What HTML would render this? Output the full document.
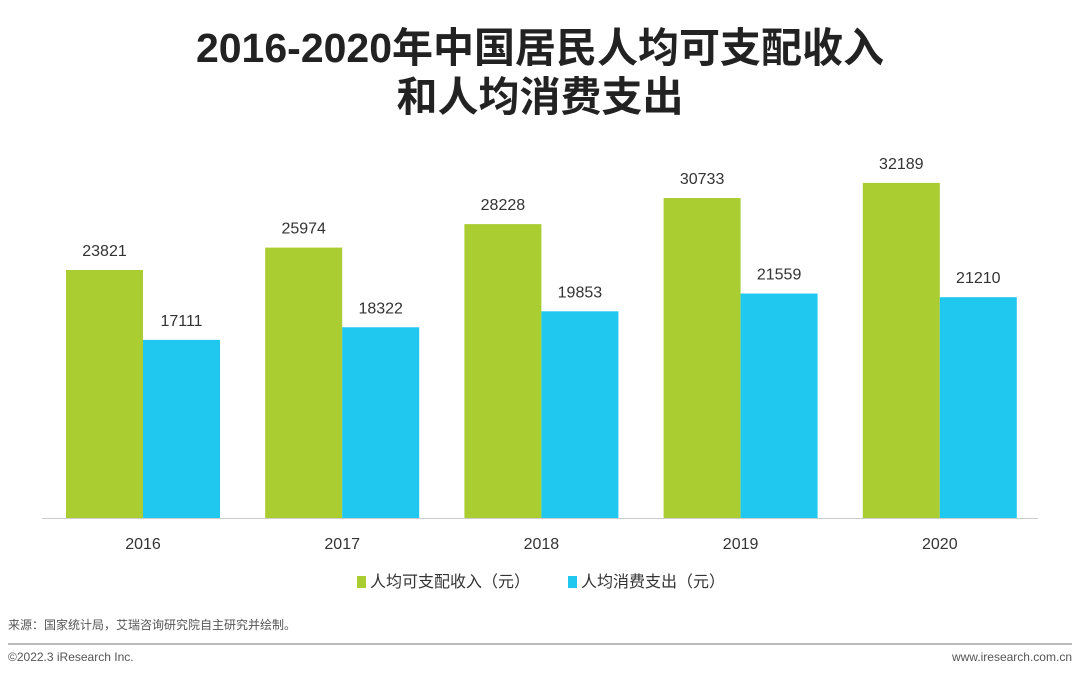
<!DOCTYPE html>
<html><head><meta charset="utf-8"><style>
body{margin:0;width:1080px;height:678px;background:#fff;overflow:hidden;font-family:"Liberation Sans","Noto Sans CJK SC",sans-serif;}
.t{position:absolute;left:0;width:1080px;text-align:center;font-weight:bold;font-size:41px;color:#222;}
</style></head><body>
<div class="t" style="top:14px">2016-2020年中国居民人均可支配收入</div>
<div class="t" style="top:63px">和人均消费支出</div>
<svg id="c" width="1080" height="678" style="position:absolute;left:0;top:0"></svg>
<script>
const years=["2016","2017","2018","2019","2020"];
const income=[23821,25974,28228,30733,32189];
const spending=[17111,18322,19853,21559,21210];
const NS="http://www.w3.org/2000/svg";
const svg=document.getElementById('c');
const base=518, k=248/23821;
const y=v=>base-v*k;
const cx=i=>143+i*199.2;
const bw=77;
function mk(t,a){const e=document.createElementNS(NS,t);for(const n in a)e.setAttribute(n,a[n]);svg.appendChild(e);return e;}
const ax=mk('line',{x1:42,x2:1038,y1:base+0.5,y2:base+0.5,stroke:'#ccc','stroke-width':1});


years.forEach((yr,i)=>{
 [[income,'#aacd32',-bw],[spending,'#20c8f0',0]].forEach(([arr,col,off],s)=>{
  const v=arr[i];
  const r=mk('rect',{x:cx(i)+off,y:y(v),width:bw,height:v*k,fill:col});
  
  
  const t=mk('text',{x:cx(i)+off+bw/2,y:y(v)-14,'text-anchor':'middle','font-size':16,fill:'#333'});
  t.textContent=v;
  
  
 });
 const l=mk('text',{x:cx(i),y:549,'text-anchor':'middle','font-size':16,fill:'#333'});
 l.textContent=yr;
 
 
});
</script>
<div style="position:absolute;top:568px;left:0;width:1080px;font-size:16px;color:#333;">
 <span style="position:absolute;left:357px;"><span style="display:inline-block;width:9px;height:12px;background:#aacd32;margin-right:4px;vertical-align:-1px"></span>人均可支配收入（元）</span>
 <span style="position:absolute;left:568px;"><span style="display:inline-block;width:9px;height:12px;background:#20c8f0;margin-right:4px;vertical-align:-1px"></span>人均消费支出（元）</span>
</div>
<div style="position:absolute;left:8px;top:616px;font-size:12px;color:#555">来源：国家统计局，艾瑞咨询研究院自主研究并绘制。</div>
<div style="position:absolute;left:8px;top:643px;width:1064px;height:2px;background:#bbb"></div>
<div style="position:absolute;left:8px;top:650px;font-size:12px;color:#555">©2022.3 iResearch Inc.</div>
<div style="position:absolute;right:8px;top:650px;font-size:12px;color:#555">www.iresearch.com.cn</div>
</body></html>
